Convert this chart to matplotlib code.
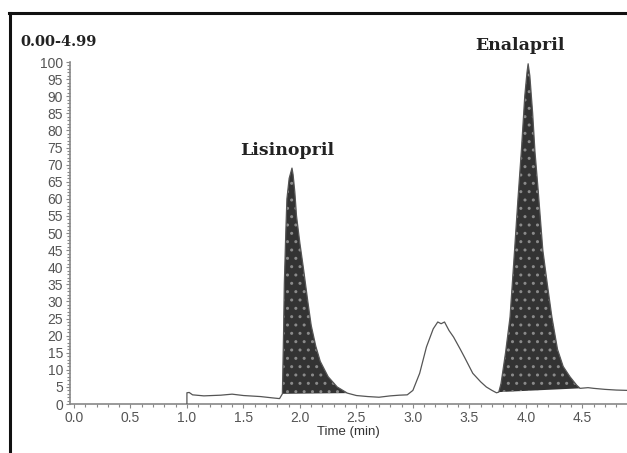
import matplotlib
matplotlib.use("Agg")
import matplotlib.pyplot as plt
from matplotlib.lines import Line2D
from matplotlib.ticker import MultipleLocator

# chromatogram trace (time in min, relative abundance %)
trace_t = [1.0, 1.0, 1.02, 1.05, 1.15, 1.3, 1.4, 1.5, 1.65, 1.76, 1.82,
           1.845, 1.855, 1.862, 1.875, 1.885, 1.905, 1.93, 1.94, 1.955, 1.97,
           2.0, 2.03, 2.07, 2.10, 2.14, 2.18, 2.25, 2.33, 2.42,
           2.5, 2.6, 2.7, 2.8, 2.88, 2.95, 3.0, 3.06, 3.12, 3.18, 3.22, 3.25,
           3.28, 3.32, 3.36, 3.42, 3.46, 3.53, 3.6, 3.65, 3.70, 3.74,
           3.76, 3.78, 3.82, 3.86, 3.90, 3.93, 3.96, 3.99, 4.01, 4.02, 4.035,
           4.06, 4.08, 4.11, 4.15, 4.19, 4.23, 4.28, 4.33, 4.39, 4.45, 4.48,
           4.55, 4.6, 4.7, 4.8, 4.9]
trace_v = [0, 3.3, 3.4, 2.7, 2.4, 2.6, 2.9, 2.5, 2.2, 1.8, 1.6,
           3, 20, 35, 50, 60, 66, 69, 67, 62, 55,
           47, 40, 30, 23, 17, 12.5, 8, 5, 3.2,
           2.5, 2.2, 2.0, 2.4, 2.6, 2.7, 4, 9, 16.7, 22, 24, 23.5,
           24, 21.5, 19.6, 16, 13.5, 9, 6.5, 5, 4, 3.3,
           3.5, 6, 15, 25.5, 45, 60, 74, 90, 97, 99.5, 96,
           85, 74, 62, 45, 35, 25.5, 16, 11, 8, 5.5, 4.6,
           4.8, 4.6, 4.3, 4.1, 4.0]

# integrated peak areas
lis_t = [1.845, 1.855, 1.862, 1.875, 1.885, 1.905, 1.93, 1.94, 1.955, 1.97,
         2.0, 2.03, 2.07, 2.10, 2.14, 2.18, 2.25, 2.33, 2.42]
lis_v = [3, 20, 35, 50, 60, 66, 69, 67, 62, 55,
         47, 40, 30, 23, 17, 12.5, 8, 5, 3.2]
ena_t = [3.76, 3.78, 3.82, 3.86, 3.90, 3.93, 3.96, 3.99, 4.01, 4.02, 4.035,
         4.06, 4.08, 4.11, 4.15, 4.19, 4.23, 4.28, 4.33, 4.39, 4.45, 4.48]
ena_v = [3.5, 6, 15, 25.5, 45, 60, 74, 90, 97, 99.5, 96,
         85, 74, 62, 45, 35, 25.5, 16, 11, 8, 5.5, 4.6]

fig = plt.figure(figsize=(6.27, 4.53), dpi=100)
ax = fig.add_axes([0.1116, 0.108, 0.8884, 0.755])

for pt, pv in [(lis_t, lis_v), (ena_t, ena_v)]:
    ax.fill(pt, pv, facecolor="#333333", edgecolor="#8a8a8a", hatch="..",
            linewidth=0, zorder=2)
ax.plot(trace_t, trace_v, color="#555555", lw=0.9, zorder=3)

ax.set_xlim(-0.035, 4.895)
ax.set_ylim(0, 100)
ax.xaxis.set_major_locator(MultipleLocator(0.5))
ax.xaxis.set_minor_locator(MultipleLocator(0.1))
ax.yaxis.set_major_locator(MultipleLocator(5))
ax.yaxis.set_minor_locator(MultipleLocator(1))
ax.xaxis.set_major_formatter(plt.FormatStrFormatter("%.1f"))
for s in ["top", "right"]:
    ax.spines[s].set_visible(False)
for s in ["left", "bottom"]:
    ax.spines[s].set_color("#888888")
    ax.spines[s].set_linewidth(1.2)
ax.tick_params(which="both", colors="#888888", labelcolor="#555555",
               labelsize=10, width=0.8)
ax.tick_params(which="major", length=3, pad=2)
ax.tick_params(which="minor", length=2)
for lab in ax.get_xticklabels() + ax.get_yticklabels():
    lab.set_family("Liberation Sans")
ax.set_xlabel("Time (min)", fontsize=9.5, color="#333333",
              family="Liberation Sans", labelpad=1)

serif = dict(family="DejaVu Serif", fontweight="bold", color="#222222")
fig.text(0.032, 0.907, "0.00-4.99", fontsize=10.5, va="center", **serif)
ax.text(1.885, 74, "Lisinopril", fontsize=12.5, ha="center", va="center", **serif)
ax.text(3.95, 104.7, "Enalapril", fontsize=12.5, ha="center", va="center",
        clip_on=False, **serif)

# outer frame of the figure panel
fig.add_artist(Line2D([0.016, 0.016], [0.0, 0.972], color="#111111", lw=2.2))
fig.add_artist(Line2D([0.015, 1.0], [0.972, 0.972], color="#111111", lw=2.2))

fig.savefig("out.png", dpi=100)
